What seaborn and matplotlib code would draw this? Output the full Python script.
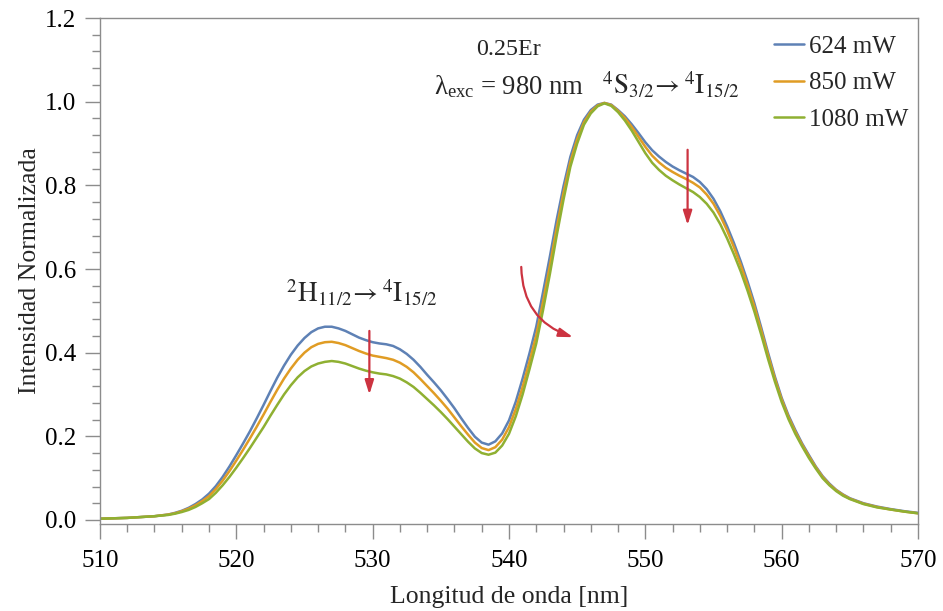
import numpy as np
import pandas as pd
import matplotlib
matplotlib.use("Agg")
import matplotlib.pyplot as plt
from matplotlib.ticker import MultipleLocator, FormatStrFormatter
import seaborn as sns

# Wavelength grid [nm]: 1 nm in the tails, 0.5 nm across the emission bands
wavelength = ([510, 511, 512, 513, 514, 515]
              + [515.5 + 0.5 * i for i in range(100)]
              + [566, 567, 568, 569, 570])

# Normalized upconversion emission for each pump power
int_624 = [0.003, 0.004, 0.005, 0.007, 0.009, 0.013,
           0.017, 0.022, 0.029, 0.038, 0.049, 0.063, 0.081, 0.103, 0.128, 0.155,
           0.183, 0.212, 0.243, 0.275, 0.308, 0.340, 0.369, 0.395, 0.417, 0.435,
           0.449, 0.458, 0.462, 0.462, 0.458, 0.452, 0.444, 0.436, 0.430, 0.425,
           0.422, 0.420, 0.416, 0.408, 0.397, 0.383, 0.366, 0.347, 0.329, 0.310,
           0.289, 0.267, 0.243, 0.220, 0.199, 0.185, 0.180, 0.188, 0.207, 0.238,
           0.283, 0.338, 0.398, 0.462, 0.545, 0.630, 0.718, 0.798, 0.868, 0.920,
           0.957, 0.980, 0.993, 0.997, 0.993, 0.980, 0.965, 0.946, 0.925, 0.903,
           0.884, 0.869, 0.856, 0.845, 0.836, 0.828, 0.820, 0.808, 0.791, 0.768,
           0.738, 0.702, 0.662, 0.618, 0.570, 0.518, 0.460, 0.400, 0.343, 0.292,
           0.250, 0.215, 0.183, 0.155, 0.128, 0.105, 0.087, 0.072, 0.061, 0.052,
           0.040, 0.032, 0.026, 0.021, 0.017]

int_850 = [0.003, 0.004, 0.005, 0.007, 0.009, 0.013,
           0.016, 0.021, 0.027, 0.035, 0.045, 0.057, 0.074, 0.094, 0.117, 0.142,
           0.168, 0.195, 0.223, 0.252, 0.282, 0.311, 0.338, 0.362, 0.383, 0.400,
           0.413, 0.421, 0.425, 0.426, 0.423, 0.418, 0.411, 0.404, 0.398, 0.393,
           0.390, 0.387, 0.383, 0.376, 0.366, 0.353, 0.337, 0.320, 0.303, 0.285,
           0.266, 0.245, 0.224, 0.204, 0.185, 0.172, 0.167, 0.174, 0.192, 0.222,
           0.265, 0.318, 0.378, 0.441, 0.522, 0.608, 0.698, 0.782, 0.856, 0.910,
           0.951, 0.976, 0.991, 0.997, 0.992, 0.978, 0.961, 0.940, 0.916, 0.892,
           0.871, 0.855, 0.842, 0.832, 0.823, 0.815, 0.806, 0.795, 0.778, 0.756,
           0.727, 0.692, 0.652, 0.609, 0.561, 0.510, 0.453, 0.394, 0.338, 0.288,
           0.246, 0.211, 0.180, 0.152, 0.126, 0.103, 0.085, 0.071, 0.060, 0.051,
           0.039, 0.031, 0.025, 0.020, 0.016]

int_1080 = [0.003, 0.004, 0.005, 0.007, 0.009, 0.012,
            0.015, 0.019, 0.024, 0.031, 0.040, 0.050, 0.065, 0.083, 0.103, 0.125,
            0.148, 0.172, 0.197, 0.222, 0.249, 0.275, 0.300, 0.322, 0.341, 0.356,
            0.367, 0.374, 0.378, 0.380, 0.378, 0.374, 0.368, 0.362, 0.357, 0.353,
            0.350, 0.348, 0.344, 0.338, 0.329, 0.318, 0.304, 0.289, 0.274, 0.258,
            0.241, 0.223, 0.205, 0.187, 0.171, 0.160, 0.156, 0.161, 0.178, 0.206,
            0.248, 0.300, 0.360, 0.422, 0.502, 0.588, 0.680, 0.766, 0.844, 0.900,
            0.945, 0.972, 0.989, 0.996, 0.990, 0.975, 0.955, 0.931, 0.904, 0.877,
            0.854, 0.837, 0.823, 0.812, 0.802, 0.793, 0.784, 0.772, 0.756, 0.735,
            0.707, 0.673, 0.635, 0.594, 0.548, 0.498, 0.443, 0.385, 0.331, 0.282,
            0.241, 0.206, 0.176, 0.148, 0.123, 0.100, 0.083, 0.069, 0.058, 0.050,
            0.038, 0.030, 0.025, 0.020, 0.016]

powers = ["624 mW", "850 mW", "1080 mW"]
colors = ["#5E81B5", "#E09C24", "#8FB032"]
arrow_color = "#CC3340"

df = pd.concat([
    pd.DataFrame({"wl": wavelength, "I": vals, "Potencia": p})
    for p, vals in zip(powers, [int_624, int_850, int_1080])
])

sns.set_theme(style="ticks")
plt.rcParams["font.family"] = ["Liberation Serif", "DejaVu Serif"]
plt.rcParams["mathtext.fontset"] = "stix"

fig = plt.figure(figsize=(9.43, 6.11), dpi=100)
ax = fig.add_axes([0.106, 0.1424, 0.8675, 0.8281])

sns.lineplot(data=df, x="wl", y="I", hue="Potencia", hue_order=powers,
             palette=colors, linewidth=1.8, ax=ax)

ax.set_xlim(510, 570)
ax.set_ylim(-0.0096, 1.2)
ax.xaxis.set_major_locator(MultipleLocator(10))
ax.xaxis.set_minor_locator(MultipleLocator(2))
ax.yaxis.set_major_locator(MultipleLocator(0.2))
ax.yaxis.set_minor_locator(MultipleLocator(0.04))
ax.yaxis.set_major_formatter(FormatStrFormatter("%.1f"))

spine_col = "#8C8C8C"
for s in ax.spines.values():
    s.set_color(spine_col)
    s.set_linewidth(1.0)
ax.tick_params(which="major", direction="out", length=11, width=1.0,
               color=spine_col, labelsize=18, labelcolor="black", pad=6)
ax.tick_params(axis="x", which="major", pad=8)
ax.tick_params(which="minor", direction="out", length=6, width=1.0,
               color=spine_col)

ax.set_xlabel("Longitud de onda [nm]", fontsize=18.5, labelpad=10)
ax.set_ylabel("Intensidad Normalizada", fontsize=18.5, labelpad=3)

leg = ax.legend(loc="upper right", bbox_to_anchor=(1.0, 0.985), frameon=False,
                fontsize=18, handlelength=1.17, handletextpad=0.2,
                labelspacing=0.55, borderaxespad=0.0)
for line in leg.get_lines():
    line.set_linewidth(1.8)

# Sample and excitation annotations
ax.text(540.0, 1.112, "0.25Er", ha="center", va="baseline", fontsize=17.3)
ax.text(540.0, 1.018, r"$\mathregular{λ_{exc}}$ = 980 nm", ha="center",
        va="baseline", fontsize=19.2)
ax.text(546.8, 1.017, r"$^{4}\mathrm{S}_{3/2}\!\rightarrow{}^{4}\mathrm{I}_{15/2}$",
        ha="left", va="baseline", fontsize=19.5)
ax.text(529.2, 0.519, r"$^{2}\mathrm{H}_{11/2}\!\rightarrow{}^{4}\mathrm{I}_{15/2}$",
        ha="center", va="baseline", fontsize=19.5)

# Arrows showing the trend with increasing pump power
arrow_kw = dict(arrowstyle="-|>,head_length=0.7,head_width=0.22",
                color=arrow_color, lw=1.6, shrinkA=0, shrinkB=0)
ax.annotate("", xy=(529.76, 0.300), xytext=(529.76, 0.452), arrowprops=arrow_kw)
ax.annotate("", xy=(553.1, 0.705), xytext=(553.1, 0.885), arrowprops=arrow_kw)
ax.annotate("", xy=(544.7, 0.437), xytext=(540.9, 0.605),
            arrowprops=dict(arrow_kw, connectionstyle="arc3,rad=0.35"))

fig.savefig("out.png", dpi=100)
